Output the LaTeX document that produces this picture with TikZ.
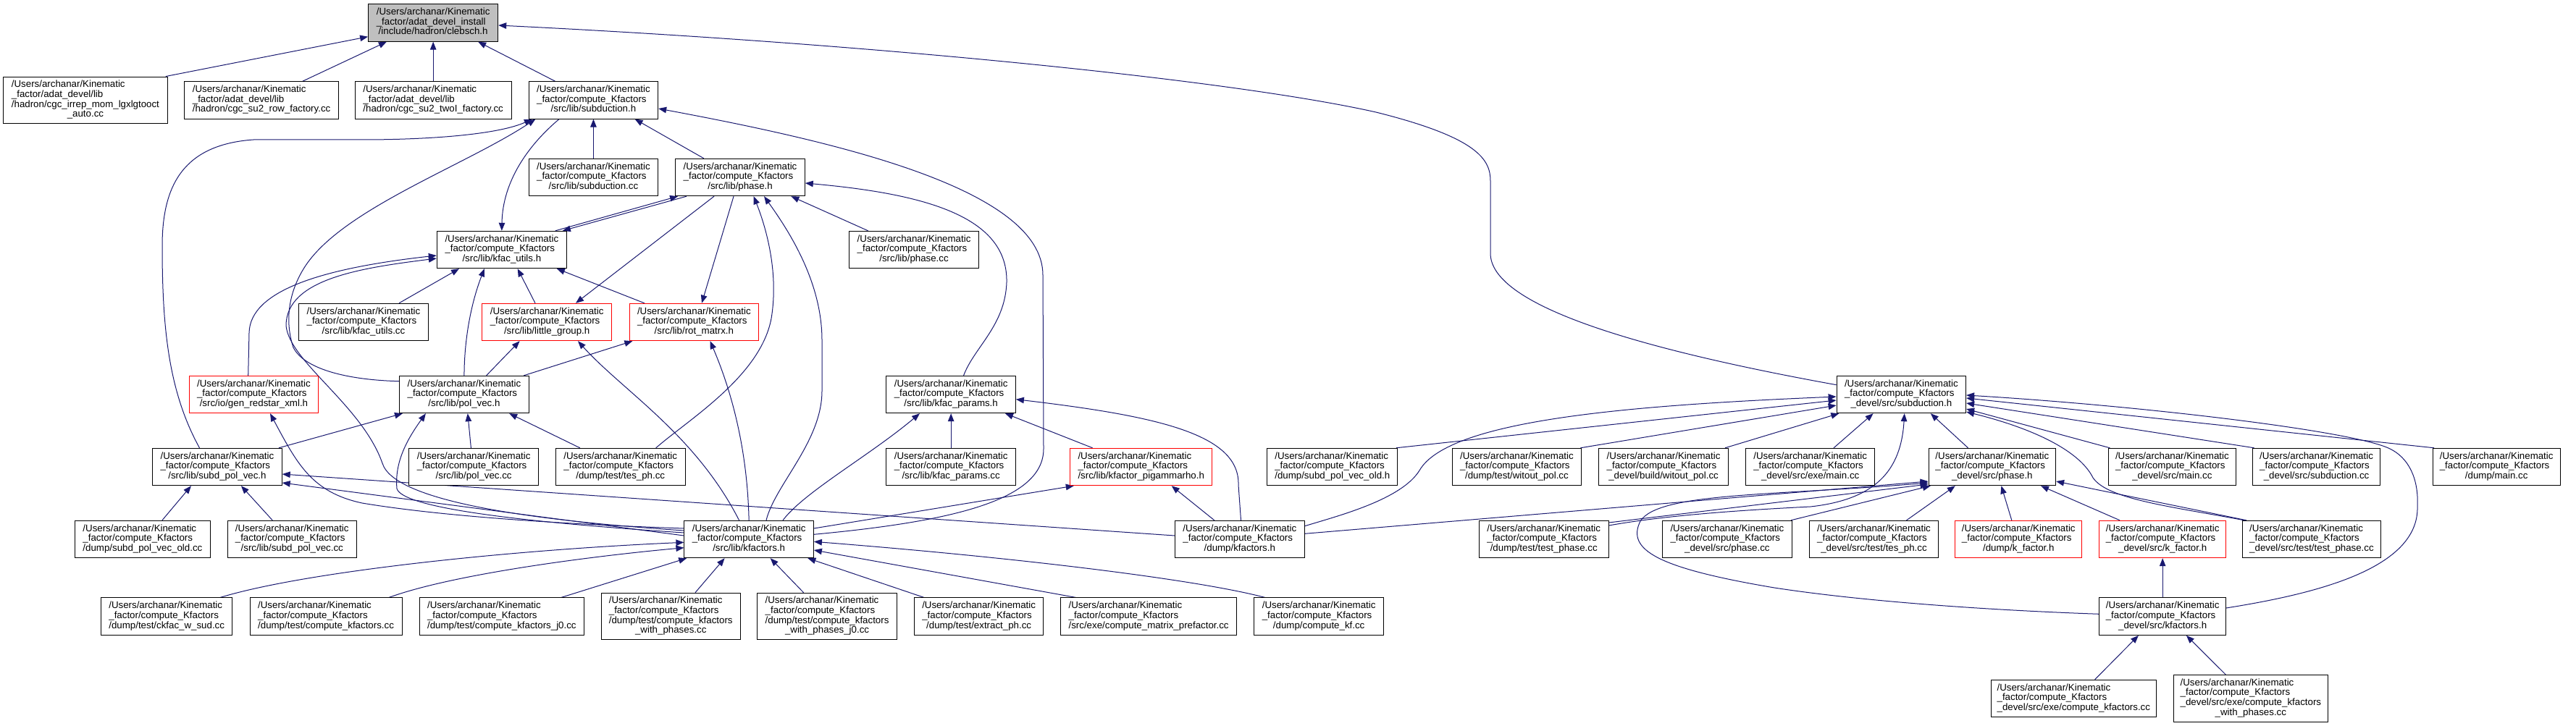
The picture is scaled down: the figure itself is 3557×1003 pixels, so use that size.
\documentclass[tikz,border=0pt]{standalone}
\usepackage{fontspec}
\setmainfont{Liberation Sans}
\usetikzlibrary{arrows.meta}
\definecolor{edgec}{HTML}{191970}
\definecolor{grayfill}{HTML}{BFBFBF}
\pgfdeclarelayer{edgelayer}
\pgfsetlayers{edgelayer,main}
\newcommand\three[3]{\begin{tabular}{@{}l@{}}#1\\#2\\\multicolumn{1}{@{}c@{}}{#3}\end{tabular}}
\newcommand\four[4]{\begin{tabular}{@{}l@{}}#1\\#2\\#3\\\multicolumn{1}{@{}c@{}}{#4}\end{tabular}}
\newcommand\Ur{/Users/archanar/Kinematic}
\newcommand\Kf{\_factor/compute\_Kfactors}
\newcommand\Ad{\_factor/adat\_devel/lib}
\newcommand\bx[5][]{\node[box,minimum width=#4pt,#1] (#2) at (#3) {#5};}
\begin{document}
\begin{tikzpicture}[x=1pt,y=-1pt,
  box/.style={draw=black, line width=1pt, fill=white, inner sep=0pt, minimum height=51.4pt, font=\fontsize{13.3}{13.4}\selectfont},
  box4/.style={minimum height=64.6pt},
  redb/.style={draw=red},
  dep/.style={draw=edgec, line width=1pt, arrows={Triangle[length=11pt,width=8.5pt]-}}]
\useasboundingbox (0,0) rectangle (3557,1003);

% row 0
\bx[fill=grayfill]{clebsch}{598.15,31.5}{179.1}{\three{\Ur}{\_factor/adat\_devel\_install}{/include/hadron/clebsch.h}}
% row 1
\bx[box4]{irrep}{117.95,138.35}{226.7}{\four{\Ur}{\Ad}{/hadron/cgc\_irrep\_mom\_lgxlgtooct}{\_auto.cc}}
\bx{su2row}{361.1,138.35}{212.4}{\three{\Ur}{\Ad}{/hadron/cgc\_su2\_row\_factory.cc}}
\bx{su2twoI}{598.15,138.35}{215.9}{\three{\Ur}{\Ad}{/hadron/cgc\_su2\_twoI\_factory.cc}}
\bx{subdh}{819.45,138.35}{178.5}{\three{\Ur}{\Kf}{/src/lib/subduction.h}}
% row 2
\bx{subdcc}{819.45,245}{178.5}{\three{\Ur}{\Kf}{/src/lib/subduction.cc}}
\bx{phaseh}{1022.05,245}{178.5}{\three{\Ur}{\Kf}{/src/lib/phase.h}}
% row 3
\bx{kfuh}{692.85,345}{179.1}{\three{\Ur}{\Kf}{/src/lib/kfac\_utils.h}}
\bx{phasecc}{1262.05,345}{178.5}{\three{\Ur}{\Kf}{/src/lib/phase.cc}}
% row 4
\bx{kfucc}{502,445}{178.6}{\three{\Ur}{\Kf}{/src/lib/kfac\_utils.cc}}
\bx[redb]{lgh}{755.15,445}{178.5}{\three{\Ur}{\Kf}{/src/lib/little\_group.h}}
\bx[redb]{roth}{958.35,445}{177.3}{\three{\Ur}{\Kf}{/src/lib/rot\_matrx.h}}
% row 5
\bx[redb]{genh}{350.45,545}{178.5}{\three{\Ur}{\Kf}{/src/io/gen\_redstar\_xml.h}}
\bx{polh}{640.95,545}{178.5}{\three{\Ur}{\Kf}{/src/lib/pol\_vec.h}}
\bx{kfph}{1313.15,545}{178.5}{\three{\Ur}{\Kf}{/src/lib/kfac\_params.h}}
\bx{dsubdh}{2625.35,545}{178.5}{\three{\Ur}{\Kf}{\_devel/src/subduction.h}}
% row 6
\bx{spvh}{299.95,645}{178.5}{\three{\Ur}{\Kf}{/src/lib/subd\_pol\_vec.h}}
\bx{polcc}{654.15,645}{178.5}{\three{\Ur}{\Kf}{/src/lib/pol\_vec.cc}}
\bx{tesph}{856.75,645}{178.5}{\three{\Ur}{\Kf}{/dump/test/tes\_ph.cc}}
\bx{kfpcc}{1313.15,645}{178.5}{\three{\Ur}{\Kf}{/src/lib/kfac\_params.cc}}
\bx[redb]{pigh}{1575.75,645}{196.3}{\three{\Ur}{\Kf}{/src/lib/kfactor\_pigammarho.h}}
\bx{spvoldh}{1839.8,645}{180.2}{\three{\Ur}{\Kf}{/dump/subd\_pol\_vec\_old.h}}
\bx{wopcc}{2094.4,645}{178.6}{\three{\Ur}{\Kf}{/dump/test/witout\_pol.cc}}
\bx{bwopcc}{2297.05,645}{178.5}{\three{\Ur}{\Kf}{\_devel/build/witout\_pol.cc}}
\bx{emaincc}{2499.65,645}{178.5}{\three{\Ur}{\Kf}{\_devel/src/exe/main.cc}}
\bx{dphaseh}{2750.8,645}{175.6}{\three{\Ur}{\Kf}{\_devel/src/phase.h}}
\bx{dmaincc}{2999.35,645}{175.7}{\three{\Ur}{\Kf}{\_devel/src/main.cc}}
\bx{dsubdcc}{3198.55,645}{175.7}{\three{\Ur}{\Kf}{\_devel/src/subduction.cc}}
\bx{mainc}{3447.15,645}{175.7}{\three{\Ur}{\Kf}{/dump/main.cc}}
% row 7
\bx{spvoldcc}{196.9,745}{187.2}{\three{\Ur}{\Kf}{/dump/subd\_pol\_vec\_old.cc}}
\bx{spvcc}{403.25,745}{178.5}{\three{\Ur}{\Kf}{/src/lib/subd\_pol\_vec.cc}}
\bx{kfh}{1034.15,745}{178.5}{\three{\Ur}{\Kf}{/src/lib/kfactors.h}}
\bx{dkfh}{1711.8,745}{179}{\three{\Ur}{\Kf}{/dump/kfactors.h}}
\bx{tphcc}{2131.7,745}{178.6}{\three{\Ur}{\Kf}{/dump/test/test\_phase.cc}}
\bx{dphcc}{2384.85,745}{178.5}{\three{\Ur}{\Kf}{\_devel/src/phase.cc}}
\bx{dtesph}{2587.5,745}{177.4}{\three{\Ur}{\Kf}{\_devel/src/test/tes\_ph.cc}}
\bx[redb]{kfach}{2787.25,745}{175.1}{\three{\Ur}{\Kf}{/dump/k\_factor.h}}
\bx[redb]{dkfach}{2986.15,745}{174.5}{\three{\Ur}{\Kf}{\_devel/src/k\_factor.h}}
\bx{dtphcc}{3191.95,745}{190.1}{\three{\Ur}{\Kf}{\_devel/src/test/test\_phase.cc}}
% row 8
\bx{ckfac}{230.2,851.65}{181.4}{\three{\Ur}{\Kf}{/dump/test/ckfac\_w\_sud.cc}}
\bx{ckf}{450.05,851.65}{210.1}{\three{\Ur}{\Kf}{/dump/test/compute\_kfactors.cc}}
\bx{ckfj0}{692.85,851.65}{227.3}{\three{\Ur}{\Kf}{/dump/test/compute\_kfactors\_j0.cc}}
\bx[box4]{ckfwp}{926.25,851.5}{192.3}{\four{\Ur}{\Kf}{/dump/test/compute\_kfactors}{\_with\_phases.cc}}
\bx[box4]{ckfwpj0}{1142.05,851.5}{192.3}{\four{\Ur}{\Kf}{/dump/test/compute\_kfactors}{\_with\_phases\_j0.cc}}
\bx{extr}{1351.6,851.65}{178.6}{\three{\Ur}{\Kf}{/dump/test/extract\_ph.cc}}
\bx{cmp}{1586.1,851.65}{243.4}{\three{\Ur}{\Kf}{/src/exe/compute\_matrix\_prefactor.cc}}
\bx{ckf2}{1821.15,851.65}{178.5}{\three{\Ur}{\Kf}{/dump/compute\_kf.cc}}
\bx{dkfh2}{2986.15,851.65}{174.5}{\three{\Ur}{\Kf}{\_devel/src/kfactors.h}}
% row 9
\bx{dckf}{2863.3,965}{228.4}{\three{\Ur}{\Kf}{\_devel/src/exe/compute\_kfactors.cc}}
\bx[box4]{dckfwp}{3107.85,965}{212.3}{\four{\Ur}{\Kf}{\_devel/src/exe/compute\_kfactors}{\_with\_phases.cc}}

\begin{pgfonlayer}{edgelayer}
% into clebsch
\draw[dep] ([yshift=-19.2pt]clebsch.west) -- ([xshift=-3pt]irrep.north east);
\draw[dep] ([xshift=-64.25pt]clebsch.south) -- ([xshift=56.9pt]su2row.north);
\draw[dep] (clebsch.south) -- (su2twoI.north);
\draw[dep] ([xshift=62pt]clebsch.south) -- ([xshift=-53pt]subdh.north);
\draw[dep] ([yshift=-3.5pt]clebsch.east) .. controls (1200,60) and (1700,110) .. (1900,155) .. controls (2040,190) and (2058,220) .. (2058,250) -- (2058,350) .. controls (2058,420) and (2250,480) .. ([yshift=13.3pt]dsubdh.west);
% into subduction.h
\draw[dep] (subdh.south) -- (subdcc.north);
\draw[dep] ([xshift=57.15pt]subdh.south) -- ([xshift=-50.25pt]phaseh.north);
\draw[dep] ([xshift=-84.6pt]subdh.south) .. controls (690,185) and (600,193) .. (500,193) -- (350,193) .. controls (250,200) and (224,260) .. (224,340) .. controls (224,450) and (232,540) .. ([xshift=-24.45pt]spvh.north);
\draw[dep] ([xshift=-80pt]subdh.south) .. controls (640,230) and (470,290) .. (420,370) .. controls (395,410) and (395,450) .. (405,480) .. controls (420,510) and (480,525) .. ([yshift=18.3pt]polh.west);
\draw[dep] ([yshift=-11.65pt]subdh.east) .. controls (1150,195) and (1440,260) .. (1440,380) -- (1441,620) .. controls (1441,690) and (1320,720) .. ([yshift=6.7pt]kfh.east);
\draw[dep] (kfuh.north) .. controls (694,250) and (730,200) .. ([xshift=-47.4pt]subdh.south);
% phase.h
\draw[dep] ([xshift=70.35pt]phaseh.south) -- ([xshift=-63.45pt]phasecc.north);
\draw[dep] ([yshift=-8pt]phaseh.east) .. controls (1280,268) and (1392,300) .. (1390,390) .. controls (1388,450) and (1345,480) .. ([xshift=17.45pt]kfph.north);
\draw[dep] ([xshift=-86pt]phaseh.south) -- ([xshift=74pt]kfuh.north);
\draw[dep] ([xshift=84pt]kfuh.north) -- ([xshift=-74pt]phaseh.south);
\draw[dep] ([xshift=39.85pt]lgh.north) -- ([xshift=-36pt]phaseh.south);
\draw[dep] ([xshift=10.65pt]roth.north) -- ([xshift=-9pt]phaseh.south);
\draw[dep] ([xshift=18.65pt]phaseh.south) .. controls (1060,320) and (1075,380) .. (1065,440) .. controls (1050,520) and (950,580) .. ([xshift=49pt]tesph.north);
\draw[dep] ([xshift=33pt]phaseh.south) .. controls (1090,320) and (1135,390) .. (1135,470) -- (1135,540) .. controls (1135,610) and (1070,670) .. ([xshift=23.85pt]kfh.north);
\draw[dep] ([xshift=22.15pt]roth.south) .. controls (1010,540) and (1032,620) .. (kfh.north);
\draw[dep] ([xshift=42.85pt]lgh.south) .. controls (860,540) and (960,600) .. ([xshift=-13.55pt]kfh.north);
% kfac_utils.h
\draw[dep] ([xshift=-58.85pt]kfuh.south) -- ([xshift=49pt]kfucc.north);
\draw[dep] ([xshift=-24pt]kfuh.south) .. controls (650,420) and (641,470) .. (polh.north);
\draw[dep] ([xshift=21.85pt]kfuh.south) -- ([xshift=-16.15pt]lgh.north);
\draw[dep] ([xshift=76pt]kfuh.south) -- ([xshift=-68.5pt]roth.north);
\draw[dep] ([yshift=-8pt]kfuh.west) .. controls (450,370) and (345,400) .. (344,460) -- ([xshift=-7.75pt]genh.north);
\draw[dep] ([yshift=-12pt]kfuh.west) .. controls (500,370) and (395,385) .. (395,450) .. controls (400,500) and (500,560) .. (528,640) .. controls (545,695) and (750,720) .. ([yshift=12pt]kfh.west);
% little_group / rot_matrx
\draw[dep] ([xshift=-37.55pt]lgh.south) -- ([xshift=30.65pt]polh.north);
\draw[dep] ([xshift=-85pt]roth.south) -- ([xshift=82.35pt]polh.north);
% pol_vec.h
\draw[dep] ([xshift=-85pt]polh.south) -- ([xshift=85pt]spvh.north);
\draw[dep] ([xshift=-53pt]polh.south) .. controls (560,610) and (545,640) .. (548,675) .. controls (555,700) and (700,720) .. ([yshift=9pt]kfh.west);
\draw[dep] ([xshift=4.85pt]polh.south) -- ([xshift=-3.75pt]polcc.north);
\draw[dep] ([xshift=62.25pt]polh.south) -- ([xshift=-55.95pt]tesph.north);
% subd_pol_vec.h
\draw[dep] ([xshift=-36pt]spvh.south) -- ([xshift=27pt]spvoldcc.north);
\draw[dep] ([xshift=33pt]spvh.south) -- ([xshift=-27pt]spvcc.north);
\draw[dep] ([yshift=-22pt]spvh.east) -- ([yshift=5pt]kfh.west);
\draw[dep] ([yshift=-10pt]spvh.east) -- ([yshift=5pt]dkfh.west);
% gen_redstar
\draw[dep] ([xshift=22.55pt]genh.south) .. controls (410,640) and (430,680) .. (500,695) .. controls (620,715) and (800,725) .. ([yshift=15pt]kfh.west);
% kfac_params.h
\draw[dep] ([xshift=-43.15pt]kfph.south) .. controls (1200,630) and (1110,680) .. ([xshift=46.85pt]kfh.north);
\draw[dep] (kfph.south) -- (kfpcc.north);
\draw[dep] ([xshift=74.85pt]kfph.south) -- ([xshift=-67.15pt]pigh.north);
\draw[dep] ([yshift=-6.7pt]kfph.east) .. controls (1600,575) and (1712,600) .. (1710,670) -- ([xshift=1.7pt]dkfh.north);
% pigammarho
\draw[dep] ([xshift=41.95pt]pigh.south) -- ([xshift=-35pt]dkfh.north);
\draw[dep] ([xshift=-93pt]pigh.south) -- ([yshift=15pt]kfh.east);
% into kfactors.h
\draw[dep] ([yshift=-4.3pt]kfh.west) .. controls (700,760) and (420,790) .. ([xshift=73.8pt]ckfac.north);
\draw[dep] ([yshift=-11.7pt]kfh.west) .. controls (800,770) and (620,795) .. ([xshift=87pt]ckf.north);
\draw[dep] ([xshift=-86pt]kfh.south) -- ([xshift=82pt]ckfj0.north);
\draw[dep] ([xshift=-33.55pt]kfh.south) -- ([xshift=33.75pt]ckfwp.north);
\draw[dep] ([xshift=29.55pt]kfh.south) -- ([xshift=-32.45pt]ckfwpj0.north);
\draw[dep] ([xshift=81.25pt]kfh.south) -- ([xshift=-75.6pt]extr.north);
\draw[dep] ([yshift=-15pt]kfh.east) -- ([xshift=-100.5pt]cmp.north);
\draw[dep] ([yshift=-3.3pt]kfh.east) .. controls (1400,770) and (1650,800) .. ([xshift=-74.35pt]ckf2.north);
% devel subduction.h
\draw[dep] ([yshift=-3pt]dsubdh.west) .. controls (2250,560) and (2000,580) .. (1960,650) .. controls (1935,690) and (1850,712) .. ([yshift=18.3pt]dkfh.east);
\draw[dep] ([yshift=-8pt]dsubdh.west) -- ([xshift=88pt]spvoldh.north);
\draw[dep] ([yshift=-15pt]dsubdh.west) -- ([xshift=88pt]wopcc.north);
\draw[dep] ([xshift=-86pt]dsubdh.south) -- ([xshift=85pt]bwopcc.north);
\draw[dep] ([xshift=-38.75pt]dsubdh.south) -- ([xshift=32.35pt]emaincc.north);
\draw[dep] ([xshift=4.35pt]dsubdh.south) .. controls (2625,650) and (2590,690) .. (2500,700) .. controls (2400,705) and (2300,712) .. ([yshift=19pt]tphcc.east);
\draw[dep] ([xshift=40.45pt]dsubdh.south) -- ([xshift=-33.3pt]dphaseh.north);
\draw[dep] ([yshift=-1pt]dsubdh.east) .. controls (2950,560) and (3250,595) .. (3300,620) .. controls (3325,632) and (3340,660) .. (3338,700) .. controls (3340,785) and (3200,820) .. ([yshift=11.65pt]dkfh2.east);
\draw[dep] ([yshift=-5pt]dsubdh.east) -- ([xshift=-86pt]mainc.north);
\draw[dep] ([yshift=-12pt]dsubdh.east) -- ([xshift=-86pt]dsubdcc.north);
\draw[dep] ([yshift=-20pt]dsubdh.east) -- ([xshift=-86pt]dmaincc.north);
\draw[dep] ([yshift=-24pt]dsubdh.east) .. controls (2800,590) and (2870,620) .. (2890,660) .. controls (2910,690) and (3000,700) .. ([xshift=-93pt]dtphcc.north);
% devel phase.h
\draw[dep] ([yshift=-20pt]dphaseh.west) -- ([yshift=7.7pt]dkfh.east);
\draw[dep] ([yshift=-24pt]dphaseh.west) -- ([yshift=23pt]tphcc.east);
\draw[dep] ([yshift=-22pt]dphaseh.west) .. controls (2450,685) and (2290,680) .. (2265,720) .. controls (2245,760) and (2290,785) .. (2450,812) .. controls (2600,835) and (2800,845) .. ([yshift=3.35pt]dkfh2.west);
\draw[dep] ([xshift=-85pt]dphaseh.south) -- ([xshift=88pt]dphcc.north);
\draw[dep] ([xshift=-51pt]dphaseh.south) -- ([xshift=45pt]dtesph.north);
\draw[dep] ([xshift=12.6pt]dphaseh.south) -- ([xshift=-9.45pt]kfach.north);
\draw[dep] ([xshift=67.2pt]dphaseh.south) -- ([xshift=-59.15pt]dkfach.north);
\draw[dep] ([yshift=-20pt]dphaseh.east) -- ([xshift=-90pt]dtphcc.north);
% devel kfactors.h
\draw[dep] (dkfach.south) -- (dkfh2.north);
\draw[dep] ([xshift=-33.25pt]dkfh2.south) -- ([xshift=29.3pt]dckf.north);
\draw[dep] ([xshift=32.75pt]dkfh2.south) -- ([xshift=-34.45pt]dckfwp.north);
\end{pgfonlayer}
\end{tikzpicture}
\end{document}
